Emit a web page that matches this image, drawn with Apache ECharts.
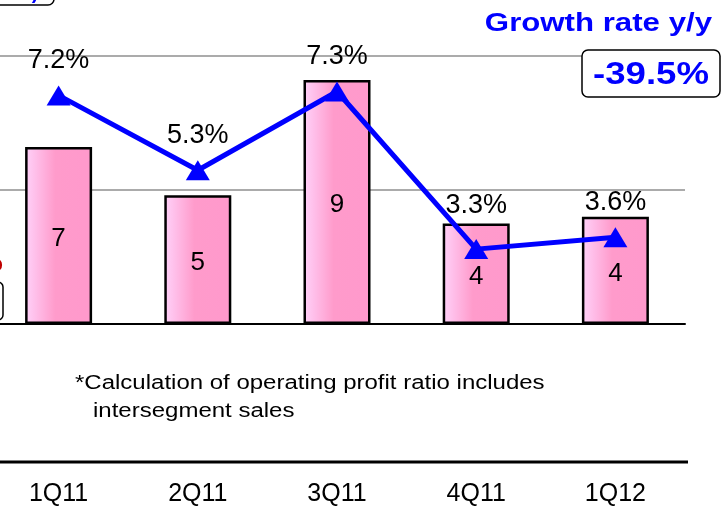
<!DOCTYPE html>
<html>
<head>
<meta charset="utf-8">
<script src="https://cdn.jsdelivr.net/npm/echarts@6/dist/echarts.min.js"></script>
<style>
html,body{margin:0;padding:0;background:#fff;overflow:hidden;}
#wrap{position:relative;width:722px;height:507px;overflow:hidden;}
#chart{position:absolute;left:-11px;top:0;width:733px;height:507px;}
</style>
</head>
<body>
<div id="wrap"><div id="chart"></div></div>
<script>
var categories = ['1Q11', '2Q11', '3Q11', '4Q11', '1Q12'];
var profitValues = [6.6, 4.8, 9.1, 3.75, 4.0];
var profitLabels = ['7', '5', '9', '4', '4'];
var ratioValues = [7.2, 5.3, 7.3, 3.3, 3.6];
var growthTitle = 'Growth rate y/y';
var growthValue = '-39.5%';
var footnote1 = '*Calculation of operating profit ratio includes';
var footnote2 = 'intersegment sales';

var FONT = '"Liberation Sans", Arial, sans-serif';
var OX = 11; // chart canvas is shifted left by this many pixels
var chart = echarts.init(document.getElementById('chart'), null, {renderer: 'canvas'});

var lineData = ratioValues.map(function (v, i) {
  return i === 3 ? {value: v, label: {distance: 20}} : v;
});

var option = {
  animation: false,
  backgroundColor: '#ffffff',
  grid: {left: 0, right: 37, top: 56, bottom: 182, containLabel: false},
  xAxis: {
    type: 'category',
    data: categories,
    axisLine: {lineStyle: {color: '#000', width: 2}},
    axisTick: {show: false},
    axisLabel: {color: '#000', fontSize: 25, fontFamily: FONT, margin: 158}
  },
  yAxis: [
    {
      type: 'value', min: 0, max: 10, interval: 5,
      axisLine: {show: false}, axisTick: {show: false}, axisLabel: {show: false},
      splitLine: {lineStyle: {color: '#ABABAB', width: 2}}
    },
    {
      type: 'value', min: 1.4, max: 8.2,
      axisLine: {show: false}, axisTick: {show: false}, axisLabel: {show: false},
      splitLine: {show: false}
    }
  ],
  series: [
    {
      type: 'bar',
      yAxisIndex: 0,
      barWidth: 67,
      data: profitValues,
      itemStyle: {
        color: new echarts.graphic.LinearGradient(0, 0, 1, 0, [
          {offset: 0, color: '#FFD2FA'},
          {offset: 0.45, color: '#FF9BCB'},
          {offset: 1, color: '#FF99CC'}
        ]),
        borderColor: '#000',
        borderWidth: 2.5
      },
      label: {
        show: true, position: 'inside', offset: [0, 3], color: '#000', fontSize: 26, fontFamily: FONT,
        formatter: function (p) { return profitLabels[p.dataIndex]; }
      },
      z: 2
    },
    {
      type: 'line',
      yAxisIndex: 1,
      data: lineData,
      clip: false,
      lineStyle: {color: '#0000FF', width: 5},
      itemStyle: {color: '#0000FF'},
      symbol: 'triangle',
      symbolSize: [24, 20],
      label: {
        show: true, position: 'top', distance: 11, color: '#000', fontSize: 27, fontFamily: FONT,
        formatter: function (p) { return ratioValues[p.dataIndex].toFixed(1) + '%'; }
      },
      z: 5
    }
  ],
  graphic: [
    {type: 'line', shape: {x1: OX + 0, y1: 462, x2: OX + 688, y2: 462}, style: {stroke: '#000', lineWidth: 3}},
    {type: 'rect', shape: {x: OX - 60, y: -40, width: 114, height: 45, r: 6}, style: {fill: '#fff', stroke: '#000', lineWidth: 1.5}},
    {type: 'text', x: OX + 35, y: 3, style: {text: ')', fill: '#0000FF', font: 'bold 20px ' + FONT, textAlign: 'center', textVerticalAlign: 'bottom'}},
    {type: 'text', x: OX + 3, y: 265, style: {text: 'o', fill: '#C00000', font: 'bold 22px ' + FONT, textAlign: 'right', textVerticalAlign: 'middle'}},
    {type: 'rect', shape: {x: OX - 100, y: 282, width: 103, height: 38, r: 5}, style: {fill: '#fff', stroke: '#000', lineWidth: 1.5}},
    {type: 'text', x: OX + 712, y: 24, scaleX: 1.2, style: {text: growthTitle, fill: '#0000FF', font: 'bold 26px ' + FONT, textAlign: 'right', textVerticalAlign: 'middle'}},
    {type: 'rect', z: 10, shape: {x: OX + 582, y: 50, width: 138, height: 47, r: 6}, style: {fill: '#fff', stroke: '#000', lineWidth: 1.5}},
    {type: 'text', z: 11, x: OX + 651, y: 75, scaleX: 1.18, style: {text: growthValue, fill: '#0000FF', font: 'bold 31px ' + FONT, textAlign: 'center', textVerticalAlign: 'middle'}},
    {type: 'text', x: OX + 75, y: 383, scaleX: 1.2, style: {text: footnote1, fill: '#000', font: '20px ' + FONT, textAlign: 'left', textVerticalAlign: 'middle'}},
    {type: 'text', x: OX + 93, y: 411, scaleX: 1.2, style: {text: footnote2, fill: '#000', font: '20px ' + FONT, textAlign: 'left', textVerticalAlign: 'middle'}}
  ]
};
chart.setOption(option);
</script>
</body>
</html>
